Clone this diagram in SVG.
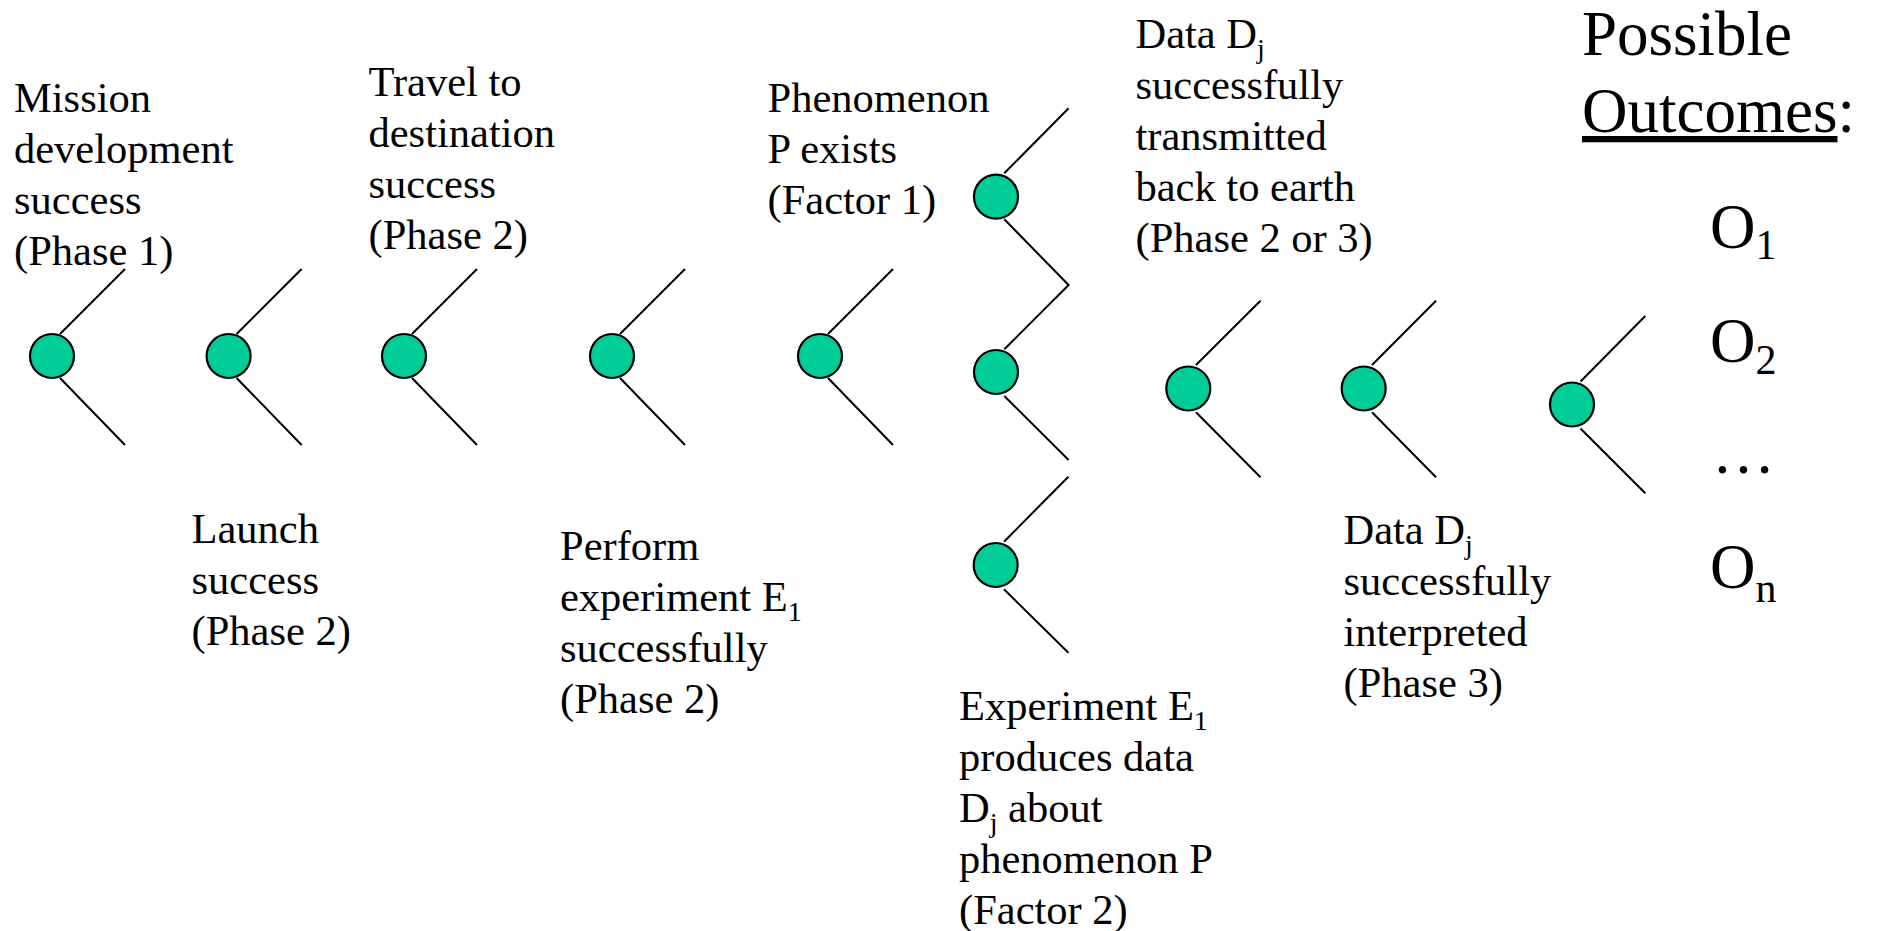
<svg xmlns="http://www.w3.org/2000/svg" width="1877" height="931" viewBox="0 0 1877 931">
<style>
text{font-family:"Liberation Serif","Times New Roman",serif;font-size:42.5px;fill:#000}
.big{font-size:63px}
.sub{font-size:28px}
.bsub{font-size:42px}
.node{fill:#00CC99;stroke:#000;stroke-width:2.2}
.edge{stroke:#000;stroke-width:2;fill:none}
</style>
<rect width="1877" height="931" fill="#fff"/>
<g id="connectors">
<path class="edge" d="M60,334L125,269M60,378L125,445"/>
<path class="edge" d="M236.6,334L301.6,269M236.6,378L301.6,445"/>
<path class="edge" d="M412,334L477,269M412,378L477,445"/>
<path class="edge" d="M620,334L685,269M620,378L685,445"/>
<path class="edge" d="M828,334L893,269M828,378L893,445"/>
<path class="edge" d="M1004.3,173.3L1068.6,108.3M1004.3,219.3L1068.6,285L1004.3,349.3M1004.3,396L1068.6,460"/>
<path class="edge" d="M1004,541.7L1068.4,476.7M1004,589.3L1068.4,652.7"/>
<path class="edge" d="M1196,365L1260.5,300.7M1196,412.3L1260.5,477.3"/>
<path class="edge" d="M1372,365L1436,300.7M1372,412.3L1436,477.3"/>
<path class="edge" d="M1580.5,381.5L1645.3,316M1580.5,428.5L1645.3,493.3"/>
</g>
<g id="n1"><circle class="node" cx="52" cy="356" r="22"/>
<text x="14" y="111.7"><tspan x="14">Mission</tspan><tspan x="14" dy="51">development</tspan><tspan x="14" dy="51">success</tspan><tspan x="14" dy="51">(Phase 1)</tspan></text></g>
<g id="n2"><circle class="node" cx="228.6" cy="356" r="22"/>
<text x="191.5" y="543.3"><tspan x="191.5">Launch</tspan><tspan x="191.5" dy="51">success</tspan><tspan x="191.5" dy="51">(Phase 2)</tspan></text></g>
<g id="n3"><circle class="node" cx="404" cy="356" r="22"/>
<text x="368.5" y="95.5"><tspan x="368.5">Travel to</tspan><tspan x="368.5" dy="51">destination</tspan><tspan x="368.5" dy="51">success</tspan><tspan x="368.5" dy="51">(Phase 2)</tspan></text></g>
<g id="n4"><circle class="node" cx="612" cy="356" r="22"/>
<text x="560" y="560"><tspan x="560">Perform</tspan><tspan x="560" dy="51">experiment E</tspan><tspan class="sub" dy="10">1</tspan><tspan x="560" dy="41">successfully</tspan><tspan x="560" dy="51">(Phase 2)</tspan></text></g>
<g id="n5"><circle class="node" cx="820" cy="356" r="22"/>
<text x="767.5" y="111.7"><tspan x="767.5">Phenomenon</tspan><tspan x="767.5" dy="51">P exists</tspan><tspan x="767.5" dy="51">(Factor 1)</tspan></text></g>
<g id="n6"><circle class="node" cx="996" cy="196.7" r="22"/></g>
<g id="n7"><circle class="node" cx="996" cy="372" r="22"/></g>
<g id="n8"><circle class="node" cx="995.7" cy="565" r="22"/>
<text x="959" y="720"><tspan x="959">Experiment E</tspan><tspan class="sub" dy="10">1</tspan><tspan x="959" dy="41">produces data</tspan><tspan x="959" dy="51">D</tspan><tspan class="sub" dy="10">j</tspan><tspan dy="-10"> about</tspan><tspan x="959" dy="51">phenomenon P</tspan><tspan x="959" dy="51">(Factor 2)</tspan></text></g>
<g id="n9"><circle class="node" cx="1188.3" cy="388.5" r="22"/>
<text x="1135.5" y="48"><tspan x="1135.5">Data D</tspan><tspan class="sub" dy="10">j</tspan><tspan x="1135.5" dy="41">successfully</tspan><tspan x="1135.5" dy="51">transmitted</tspan><tspan x="1135.5" dy="51">back to earth</tspan><tspan x="1135.5" dy="51">(Phase 2 or 3)</tspan></text></g>
<g id="n10"><circle class="node" cx="1363.7" cy="388.5" r="22"/>
<text x="1343.5" y="543.5"><tspan x="1343.5">Data D</tspan><tspan class="sub" dy="10">j</tspan><tspan x="1343.5" dy="41">successfully</tspan><tspan x="1343.5" dy="51">interpreted</tspan><tspan x="1343.5" dy="51">(Phase 3)</tspan></text></g>
<g id="n11"><circle class="node" cx="1572" cy="404.5" r="22"/></g>
<g id="outcomes">
<text class="big" x="1582" y="55">Possible</text>
<text class="big" x="1582" y="132"><tspan text-decoration="underline">Outcomes</tspan>:</text>
<text class="big" x="1710" y="247.5">O<tspan class="bsub" dy="11">1</tspan></text>
<text class="big" x="1710" y="361.5">O<tspan class="bsub" dy="12">2</tspan></text>
<text class="big" x="1712" y="473">…</text>
<text class="big" x="1710" y="588">O<tspan class="bsub" dy="14">n</tspan></text>
</g>
</svg>
